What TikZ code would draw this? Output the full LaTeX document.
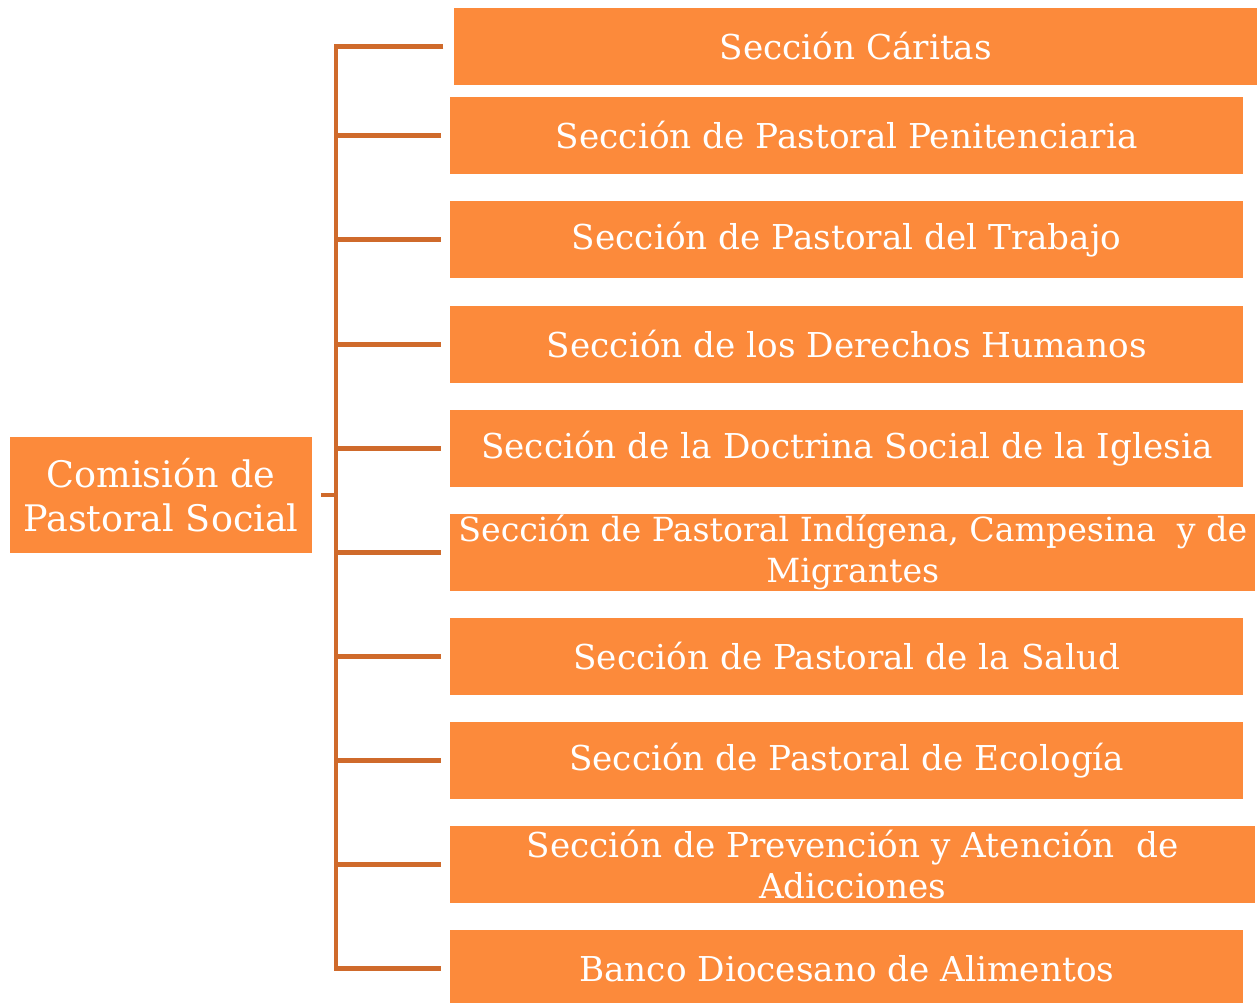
\documentclass[tikz,border=0pt]{standalone}
\usepackage{fontspec}
\setmainfont{DejaVu Serif}
\usepackage{tikz}
\usetikzlibrary{positioning,calc}
\definecolor{boxorange}{HTML}{FC8A3B}
\definecolor{lineorange}{HTML}{CF6A2B}
\tikzset{
secbox/.style={
  rectangle,
  fill=boxorange,
  text=white,
  inner sep=0pt,
  minimum width=15.86cm,
  minimum height=1.54cm,
  align=center,
  anchor=west,
  font=\fontsize{19.5}{23.3}\selectfont,
  }
}
\tikzset{
myline/.style={
  line width=2.3pt,
  draw=lineorange,
  }
}

\begin{document}
\begin{tikzpicture}[x=0.02cm,y=-0.02cm]
    \useasboundingbox (0,0) rectangle (1257,1003);

    % head
    \node[secbox, anchor=center, minimum width=6.04cm, minimum height=2.32cm,
      font=\fontsize{20.8}{25}\selectfont] (comision) at (161,495) {Comisión de\\Pastoral Social};

    % sections
    \node[secbox, minimum width=16.06cm] (caritas) at (454,46.5) {Sección Cáritas};
    \node[secbox] (penit) at (450,135.5) {Sección de Pastoral Penitenciaria};
    \node[secbox] (trabajo) at (450,239.5) {Sección de Pastoral del Trabajo};
    \node[secbox] (derechos) at (450,344.5) {Sección de los Derechos Humanos};
    \node[secbox] (doctrina) at (450,448.5) {Sección de la Doctrina Social de la Iglesia};
    \node[secbox, minimum width=16.1cm, font=\fontsize{18.9}{23.3}\selectfont] (indigena) at (450,552.5) {Sección de Pastoral Indígena, Campesina~ y de\\Migrantes};
    \node[secbox] (salud) at (450,656.5) {Sección de Pastoral de la Salud};
    \node[secbox] (ecologia) at (450,760.5) {Sección de Pastoral de Ecología};
    \node[secbox, minimum width=16.1cm] (adicc) at (450,864.5) {Sección de Prevención y Atención~ de\\Adicciones};
    \node[secbox] (banco) at (450,968.5) {Banco Diocesano de Alimentos};

    % trunk
    \coordinate (jn) at (336,495);
    \draw[myline] ([xshift=5]comision.east) -- (jn);
    \draw[myline] ([xshift=-6]caritas.west) -| (jn) |- ([xshift=-5]banco.west);

    % branches
    \draw[myline] (jn |- penit.west) -- ([xshift=-5]penit.west);
    \draw[myline] (jn |- trabajo.west) -- ([xshift=-5]trabajo.west);
    \draw[myline] (jn |- derechos.west) -- ([xshift=-5]derechos.west);
    \draw[myline] (jn |- doctrina.west) -- ([xshift=-5]doctrina.west);
    \draw[myline] (jn |- indigena.west) -- ([xshift=-5]indigena.west);
    \draw[myline] (jn |- salud.west) -- ([xshift=-5]salud.west);
    \draw[myline] (jn |- ecologia.west) -- ([xshift=-5]ecologia.west);
    \draw[myline] (jn |- adicc.west) -- ([xshift=-5]adicc.west);
\end{tikzpicture}
\end{document}
